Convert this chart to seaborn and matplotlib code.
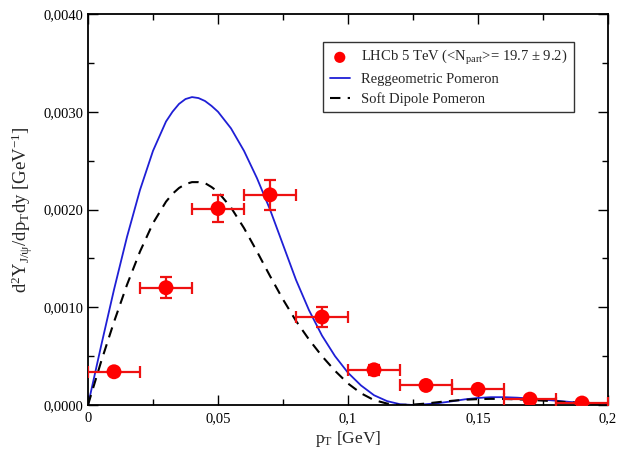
import numpy as np
import pandas as pd
import matplotlib
matplotlib.use("Agg")
import matplotlib.pyplot as plt
from matplotlib.ticker import MultipleLocator
import seaborn as sns

# ---- data ----
pt_data = [0.01, 0.03, 0.05, 0.07, 0.09, 0.11, 0.13, 0.15, 0.17, 0.19]
y_data = [0.00034, 0.0012, 0.00201, 0.00215, 0.0009, 0.00036, 0.0002, 0.00016, 0.00006, 0.00002]
yerr_data = [0.00003, 0.00011, 0.00014, 0.00015, 0.0001, 0.00005, 0.00002, 0.00002, 0.00002, 0.00002]
xerr_data = [0.01] * 10

pt_curve = [0, 0.005, 0.01, 0.015, 0.02, 0.025, 0.03, 0.0325, 0.035, 0.0375, 0.04, 0.0425,
            0.045, 0.0475, 0.05,
            0.055, 0.06, 0.065, 0.07, 0.075, 0.08, 0.085, 0.09, 0.095, 0.1,
            0.105, 0.11, 0.115, 0.12, 0.125, 0.13, 0.135, 0.14, 0.145, 0.15,
            0.155, 0.16, 0.165, 0.17, 0.175, 0.18, 0.185, 0.19, 0.195, 0.2]
regge = [0, 0.0006, 0.00118, 0.00172, 0.0022, 0.0026, 0.0029, 0.003, 0.00308, 0.00313, 0.00315, 0.00314,
         0.00311, 0.00306, 0.003,
         0.00283, 0.0026, 0.00232, 0.002, 0.00164, 0.00128, 0.00097, 0.00071, 0.0005, 0.00033,
         0.0002, 0.0001, 0.00004, 0.000008, 0.0, 0.000008, 0.00002, 0.000038, 0.000058, 0.000072,
         0.00008, 0.00008, 0.000075, 0.000066, 0.000055, 0.000044, 0.000032, 0.000022, 0.000012, 0.000005]
dipole = [0, 0.00044, 0.00085, 0.00123, 0.00157, 0.00186, 0.00208, 0.00216, 0.00222, 0.00226, 0.00228, 0.00228,
          0.00227, 0.00223, 0.00218,
          0.00202, 0.00181, 0.00157, 0.00132, 0.00108, 0.00086, 0.00067, 0.0005, 0.00035, 0.00022,
          0.00012, 0.00005, 0.000015, 0.0, 0.000004, 0.000015, 0.00003, 0.000043, 0.000054, 0.00006,
          0.000063, 0.000062, 0.000058, 0.000052, 0.000045, 0.000037, 0.000028, 0.00002, 0.000011, 0.000005]

x_ticks = [0, 0.05, 0.1, 0.15, 0.2]
x_ticklabels = ["0", "0,05", "0,1", "0,15", "0,2"]
y_ticks = [0.0, 0.001, 0.002, 0.003, 0.004]
y_ticklabels = ["0,0000", "0,0010", "0,0020", "0,0030", "0,0040"]

sns.set_style("ticks")
plt.rcParams["font.family"] = ["Liberation Serif", "DejaVu Serif"]
plt.rcParams["mathtext.fontset"] = "custom"
plt.rcParams["mathtext.rm"] = "Liberation Serif"
plt.rcParams["mathtext.it"] = "Liberation Serif:italic"
plt.rcParams["mathtext.default"] = "rm"

fig = plt.figure(figsize=(6.25, 4.55), dpi=100)
ax = fig.add_axes([88 / 625, 1 - 405 / 455, 520 / 625, 391 / 455])

df_c = pd.DataFrame({"pt": pt_curve, "regge": regge, "dipole": dipole})
df_d = pd.DataFrame({"pt": pt_data, "y": y_data})

data_label = r"LHCb 5 TeV (<N$_{\mathrm{part}}$>= 19.7 $\pm$ 9.2)"

ax.errorbar(pt_data, y_data, xerr=xerr_data, yerr=yerr_data, fmt="none",
            ecolor="#ee1111", elinewidth=1.6, capsize=4, capthick=1.6, zorder=3)
sns.lineplot(data=df_c, x="pt", y="regge", ax=ax, color="#1f1fd6", lw=1.3,
             label="Reggeometric Pomeron", zorder=2)
sns.lineplot(data=df_c, x="pt", y="dipole", ax=ax, color="black", lw=1.5,
             linestyle=(0, (5, 3.5)), label="Soft Dipole Pomeron", zorder=2)
sns.scatterplot(data=df_d, x="pt", y="y", ax=ax, color="#ff0000", s=115,
                edgecolor="none", zorder=4, label=data_label)

ax.set_xlim(0, 0.2)
ax.set_ylim(0, 0.004)
ax.set_xticks(x_ticks)
ax.set_xticklabels(x_ticklabels)
ax.set_yticks(y_ticks)
ax.set_yticklabels(y_ticklabels)
ax.xaxis.set_minor_locator(MultipleLocator(0.025))
ax.yaxis.set_minor_locator(MultipleLocator(0.0005))
ax.tick_params(which="both", direction="in", top=True, right=True, colors="black",
               labelsize=10.5, width=1.0)
ax.tick_params(which="major", length=7)
ax.tick_params(which="minor", length=4)
ax.tick_params(axis="x", pad=5)
for s in ax.spines.values():
    s.set_color("black")
    s.set_linewidth(1.3)

ax.set_xlabel(r"p$_\mathrm{T}$ [GeV]", fontsize=12.5, labelpad=3)
ax.set_ylabel(r"d$^2$Y$_{\mathrm{J/\psi}}$/dp$_\mathrm{T}$dy [GeV$^{-1}$]", fontsize=13.5, labelpad=6)

h, l = ax.get_legend_handles_labels()
order = [l.index(data_label), l.index("Reggeometric Pomeron"), l.index("Soft Dipole Pomeron")]
leg = ax.legend([h[i] for i in order], [l[i] for i in order], loc="upper right",
                bbox_to_anchor=((574 - 88) / 520, (405 - 41.7) / 391), borderaxespad=0,
                fontsize=10.5, frameon=True, fancybox=False, markerscale=0.75,
                edgecolor="#333333", framealpha=1, handlelength=1.4, borderpad=0.45,
                labelspacing=0.4, handletextpad=0.75)
leg.get_frame().set_linewidth(1.0)

fig.savefig("out.png", dpi=100)
